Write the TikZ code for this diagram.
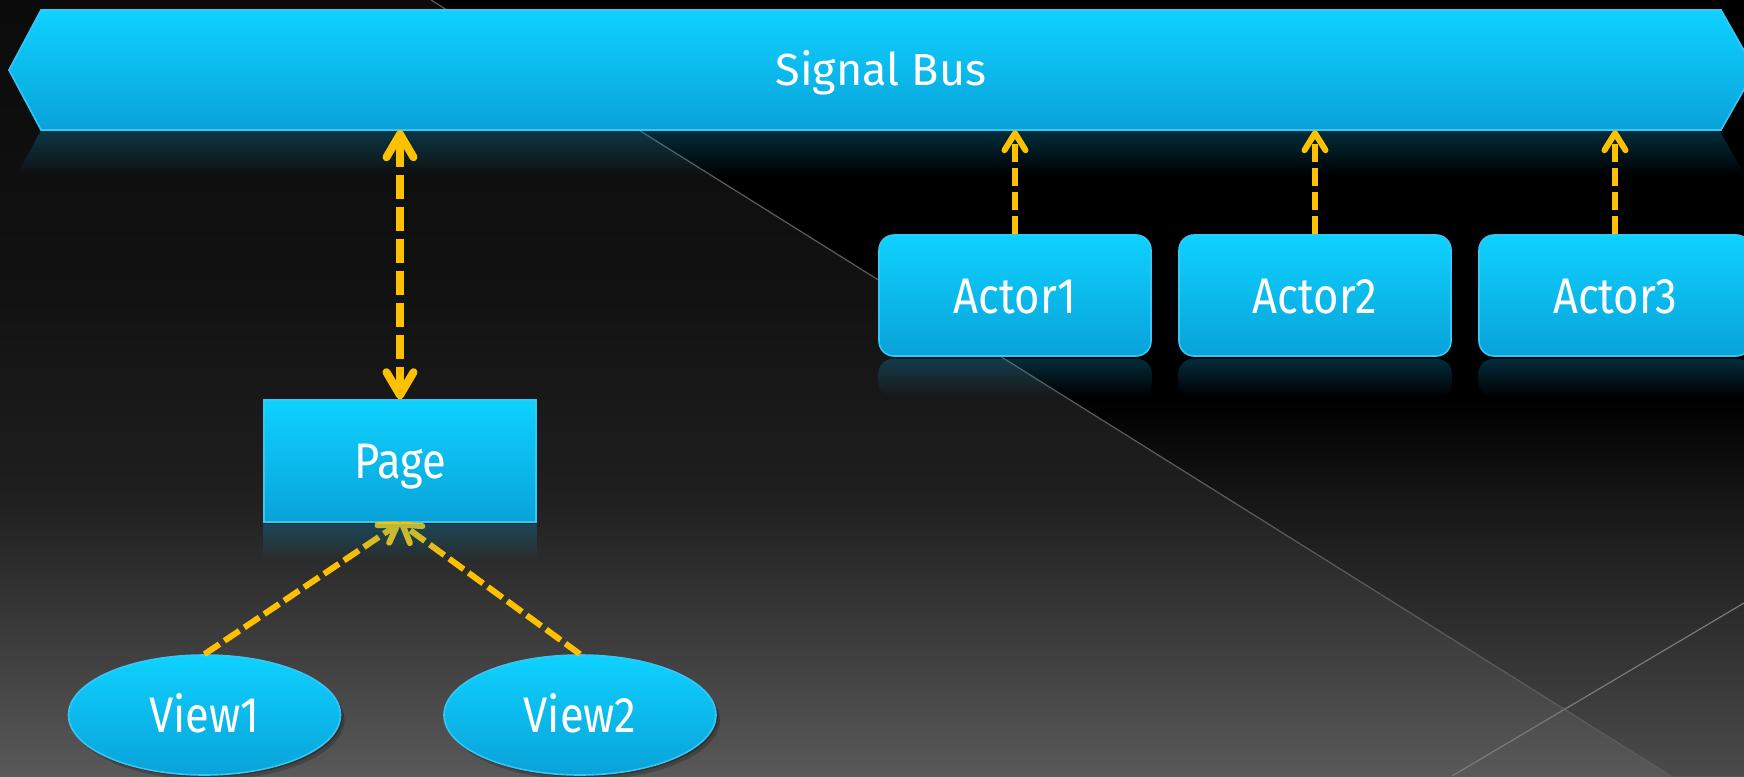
\documentclass[tikz,border=0pt]{standalone}
\usepackage{fontspec}
\setmainfont{Fira Sans}
\newfontfamily\labelfont{Fira Sans}
\newfontfamily\boxfont[FakeStretch=0.87]{Fira Sans}
\usetikzlibrary{arrows.meta,shapes.geometric,shadows,fadings}
\definecolor{cyantop}{HTML}{0ED2FF}
\definecolor{cyanbot}{HTML}{09A2D9}
\definecolor{cyanedge}{HTML}{38C6F4}
\definecolor{gold}{HTML}{FFC000}
\definecolor{bgtop}{HTML}{0B0B0B}
\definecolor{bgA}{HTML}{121212}
\definecolor{bgB}{HTML}{1F1F1F}
\definecolor{bgbot}{HTML}{595959}
\definecolor{ovA}{HTML}{161616}
\definecolor{ovbot}{HTML}{4B4B4B}
\definecolor{lineA}{HTML}{5C5C5C}
\definecolor{lineB}{HTML}{7A7A7A}
\pgfdeclareverticalshading{bgshade}{100bp}{color(0bp)=(bgbot); color(25bp)=(bgbot); color(42.8bp)=(bgB); color(55.7bp)=(bgA); color(75bp)=(bgtop); color(100bp)=(bgtop)}
\pgfdeclareverticalshading{ovshade}{100bp}{color(0bp)=(ovbot); color(25bp)=(ovbot); color(42.8bp)=(ovA); color(49.2bp)=(black); color(75bp)=(black); color(100bp)=(black)}
\tikzfading[name=fadedown, top color=transparent!0, bottom color=transparent!100]
\tikzset{
  barbS/.tip={Straight Barb[length=17pt,width=21pt,round]},
  barbL/.tip={Straight Barb[length=23pt,width=27pt,round]},
  connS/.style={draw=gold, line width=6pt, dash pattern=on 18pt off 6pt},
  connL/.style={draw=gold, line width=8pt, dash pattern=on 24pt off 8pt},
  box/.style={draw=cyanedge, line width=1.6pt, top color=cyantop, bottom color=cyanbot,
    text=white, inner sep=0pt, font={\boxfont\fontsize{50}{56}\selectfont},
    text height=35pt, text depth=0pt},
  reflect/.style={fill=cyanbot, fill opacity=0.28, path fading=fadedown},
  softshadow/.style={drop shadow={shadow xshift=2pt, shadow yshift=-2pt, opacity=0.25, fill=black},
    drop shadow={shadow xshift=4pt, shadow yshift=-5pt, opacity=0.2, fill=black}},
}
\begin{document}
\begin{tikzpicture}[x=1pt,y=-1pt]
\useasboundingbox (0,0) rectangle (1744,776);
\clip (0,0) rectangle (1744,776);
% background
\shade[shading=bgshade] (0,0) rectangle (1744,776);
\shade[shading=ovshade] (431,0) -- (1744,0) -- (1744,776) -- (1671,776) -- cycle;
\draw[lineA, line width=1.2pt] (431,0) -- (1671,776);
\draw[lineB, line width=1.2pt] (1744,603) -- (1452,776);
% bus
\draw[cyanedge, line width=1.6pt, top color=cyantop, bottom color=cyanbot]
  (41,10) -- (1721,10) -- (1755,70) -- (1721,130) -- (41,130) -- (9,70) -- cycle;
\node[inner sep=0pt, minimum width=1680pt, minimum height=120pt, text=white,
  font={\labelfont\fontsize{45}{50}\selectfont}, text height=31pt, text depth=0pt] (bus) at (881,70) {Signal Bus};
\fill[reflect] (41,131) -- (1721,131) -- (1746,176) -- (17,176) -- cycle;
% actors
\node[box, rounded corners=15pt, minimum width=272pt, minimum height=121pt] (a1) at (1015,295.5) {Actor1};
\node[box, rounded corners=15pt, minimum width=272pt, minimum height=121pt] (a2) at (1315,295.5) {Actor2};
\node[box, rounded corners=15pt, minimum width=272pt, minimum height=121pt] (a3) at (1615,295.5) {Actor3};
\foreach \n in {a1,a2,a3}{
  \fill[reflect, rounded corners=15pt] ([yshift=-2pt]\n.south west) rectangle ([yshift=-40pt]\n.south east);
}
% page
\node[box, minimum width=272pt, minimum height=122pt] (page) at (400,461) {Page};
% views
\node[box, ellipse, minimum width=272pt, minimum height=120pt, softshadow] (v1) at (204.5,715) {View1};
\node[box, ellipse, minimum width=272pt, minimum height=120pt, softshadow] (v2) at (580,715) {View2};
% connectors
\draw[connS, -barbS] (a1.north) -- (a1.north |- bus.south);
\draw[connS, -barbS] (a2.north) -- (a2.north |- bus.south);
\draw[connS, -barbS] (a3.north) -- (a3.north |- bus.south);
\draw[connL, barbL-barbL] (page.north) -- (page.north |- bus.south);
\draw[connS, -barbS] (v1.north) -- (page.south);
\draw[connS, -barbS] (v2.north) -- (page.south);
% page reflection (over the arrow tips)
\fill[reflect] ([yshift=-1pt]page.south west) rectangle ([yshift=-38pt]page.south east);
\end{tikzpicture}
\end{document}
